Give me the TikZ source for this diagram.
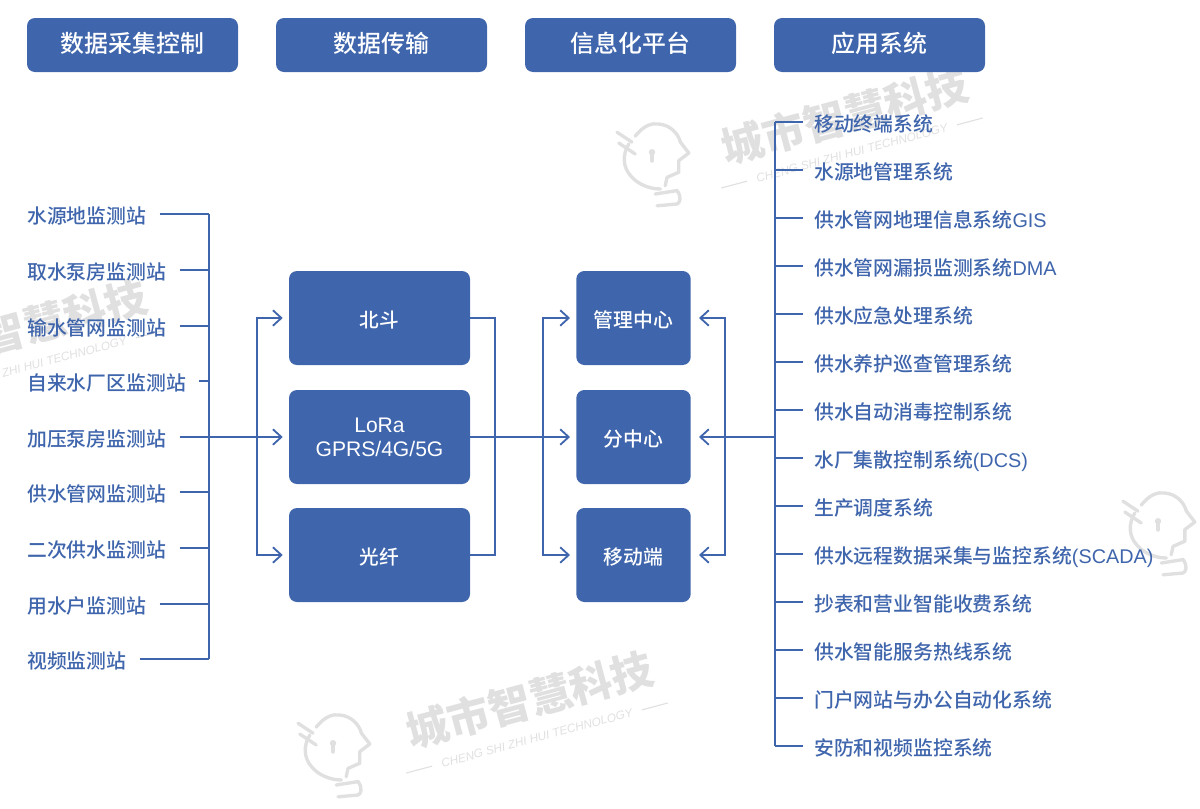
\documentclass[tikz,border=0pt]{standalone}
\usepackage{xcolor}
\usepackage{fontspec}
\setmainfont{Noto Sans CJK SC Medium}
\newfontfamily\latfont{Liberation Sans}
\usetikzlibrary{arrows.meta,positioning}
\definecolor{sysblue}{HTML}{3F65AC}
\definecolor{wmgray}{HTML}{E0E0E0}

\tikzset{
  headicon/.pic={
    \draw[wmgray, line width=2.4pt, line cap=round, line join=round]
      (-0.42,0.57) .. controls (-0.2,0.85) and (0.0,0.9) .. (0.17,0.875)
      .. controls (0.45,0.85) and (0.65,0.65) .. (0.71,0.42) -- (0.92,0.15) -- (0.67,-0.04) -- (0.67,-0.33) -- (0.375,-0.46) -- (0.33,-0.67);
    \draw[wmgray, line width=2.4pt, line cap=round]
      (-0.58,0.375) .. controls (-0.75,0.1) and (-0.72,-0.2) .. (-0.55,-0.4)
      .. controls (-0.4,-0.6) and (-0.1,-0.75) .. (0.21,-0.75);
    \draw[wmgray, line width=2.4pt, line cap=round] (-0.875,0.67) -- (-0.5,0.42);
    \draw[wmgray, line width=2.4pt, line cap=round] (-0.83,0.4) -- (-0.42,0.125);
    \draw[wmgray, line width=2.4pt, line cap=round] (0,0.17) -- (0,-0.05);
    \fill[wmgray] (0,0.17) circle (0.08);
    \draw[wmgray, line width=2.4pt, line cap=round] (0.08,-0.875) -- (0.625,-0.79)
      .. controls (0.75,-0.95) and (0.7,-1.1) .. (0.625,-1.125) -- (0.125,-1.17);
  }
}

\begin{document}
\begin{tikzpicture}[
  line/.style={draw=sysblue, line width=1.3pt},
  arr/.style={line, -{Straight Barb[length=6pt,width=11pt,line width=1.3pt]}},
  head/.style={fill=sysblue, text=white, rounded corners=0.2cm, minimum width=5.275cm, minimum height=1.35cm, text height=14pt, text depth=3.9pt, font=\fontsize{17}{20}\selectfont},
  bigbox/.style={fill=sysblue, text=white, rounded corners=0.2cm, minimum width=4.525cm, minimum height=2.35cm, align=center, font=\fontsize{14}{17}\selectfont},
  midbox/.style={fill=sysblue, text=white, rounded corners=0.2cm, minimum width=2.86cm, minimum height=2.35cm, text height=14.8pt, text depth=1.4pt, font=\fontsize{14.1}{17}\selectfont},
  item/.style={anchor=west, inner sep=0pt, text=sysblue, text height=14.8pt, text depth=1.4pt, font=\fontsize{14.1}{17}\selectfont},
  wmark/.style={text=wmgray, rotate=15, font=\fontsize{30}{36}\selectfont\bfseries},
  wmsub/.style={text=wmgray, rotate=15, font=\fontsize{8.4}{10}\selectfont\latfont\itshape},
  wmline/.style={draw=wmgray, line width=0.8pt}
]
\useasboundingbox (0,0) rectangle (30,-20.2);

% watermarks
\node[wmark] (wm1) at (21.125,-2.9) {城市智慧科技};
\node[wmsub] (wms1) at (21.3,-3.825) {CHENG SHI ZHI HUI TECHNOLOGY};
\node[wmark] (wm2) at (0.6,-8.2) {城市智慧科技};
\node[wmsub] (wms2) at (0.775,-9.15) {CHENG SHI ZHI HUI TECHNOLOGY};
\node[wmark] (wm3) at (13.25,-17.5) {城市智慧科技};
\node[wmsub] (wms3) at (13.425,-18.45) {CHENG SHI ZHI HUI TECHNOLOGY};
\draw[wmline] (wms1.west) ++(195:0.12) -- ++(195:0.67);
\draw[wmline] (wms1.east) ++(15:0.12) -- ++(15:0.67);
\draw[wmline] (wms2.east) ++(15:0.12) -- ++(15:0.67);
\draw[wmline] (wms3.west) ++(195:0.12) -- ++(195:0.67);
\draw[wmline] (wms3.east) ++(15:0.12) -- ++(15:0.67);
\pic at (16.3,-3.975) {headicon};
\pic at (8.325,-18.75) {headicon};
\pic at (28.95,-13.2) {headicon};

% headers
\node[head] (h1) at (3.3125,-1.125) {数据采集控制};
\node[head] (h2) at (9.5375,-1.125) {数据传输};
\node[head] (h3) at (15.7625,-1.125) {信息化平台};
\node[head] (h4) at (21.9875,-1.125) {应用系统};

% stations
\node[item] (s1) at (0.675,-5.36) {水源地监测站};
\node[item] (s2) at (0.675,-6.75) {取水泵房监测站};
\node[item] (s3) at (0.675,-8.14) {输水管网监测站};
\node[item] (s4) at (0.675,-9.53) {自来水厂区监测站};
\node[item] (s5) at (0.675,-10.925) {加压泵房监测站};
\node[item] (s6) at (0.675,-12.31) {供水管网监测站};
\node[item] (s7) at (0.675,-13.7) {二次供水监测站};
\node[item] (s8) at (0.675,-15.09) {用水户监测站};
\node[item] (s9) at (0.675,-16.48) {视频监测站};

% links
\node[bigbox, text height=14.8pt, text depth=1.4pt] (bd) at (9.4875,-7.95) {北斗};
\node[bigbox] (lora) at (9.4875,-10.925) {{\latfont\fontsize{15}{17}\selectfont LoRa}\\{\latfont\fontsize{15}{17}\selectfont GPRS/4G/5G}};
\node[bigbox, text height=14.8pt, text depth=1.4pt] (gx) at (9.4875,-13.875) {光纤};

% centres
\node[midbox] (glzx) at (15.8375,-7.95) {管理中心};
\node[midbox] (fzx) at (15.8375,-10.925) {分中心};
\node[midbox] (ydd) at (15.8375,-13.875) {移动端};

% systems
\node[item] (r1) at (20.35,-3.05) {移动终端系统};
\node[item] (r2) at (20.35,-4.25) {水源地管理系统};
\node[item] (r3) at (20.35,-5.45) {供水管网地理信息系统{\latfont GIS}};
\node[item] (r4) at (20.35,-6.65) {供水管网漏损监测系统{\latfont DMA}};
\node[item] (r5) at (20.35,-7.85) {供水应急处理系统};
\node[item] (r6) at (20.35,-9.05) {供水养护巡查管理系统};
\node[item] (r7) at (20.35,-10.25) {供水自动消毒控制系统};
\node[item] (r8) at (20.35,-11.45) {水厂集散控制系统{\latfont (DCS)}};
\node[item] (r9) at (20.35,-12.65) {生产调度系统};
\node[item] (r10) at (20.35,-13.85) {供水远程数据采集与监控系统{\latfont (SCADA)}};
\node[item] (r11) at (20.35,-15.05) {抄表和营业智能收费系统};
\node[item] (r12) at (20.35,-16.25) {供水智能服务热线系统};
\node[item] (r13) at (20.35,-17.45) {门户网站与办公自动化系统};
\node[item] (r14) at (20.35,-18.65) {安防和视频监控系统};

% bus points
\coordinate (cl) at (5.225,-10.925);
\coordinate (ia) at (6.425,-10.925);
\coordinate (oa) at (12.375,-10.925);
\coordinate (ib) at (13.575,-10.925);
\coordinate (ic) at (18.125,-10.925);
\coordinate (rb) at (19.375,-10.925);

% stations to links
\draw[line, shorten <=0.33cm] (s1.east) -- (s1.east -| cl);
\draw[line, shorten <=0.33cm] (s2.east) -- (s2.east -| cl);
\draw[line, shorten <=0.33cm] (s3.east) -- (s3.east -| cl);
\draw[line, shorten <=0.33cm] (s4.east) -- (s4.east -| cl);
\draw[line, shorten <=0.33cm] (s6.east) -- (s6.east -| cl);
\draw[line, shorten <=0.33cm] (s7.east) -- (s7.east -| cl);
\draw[line, shorten <=0.33cm] (s8.east) -- (s8.east -| cl);
\draw[line, shorten <=0.33cm] (s9.east) -- (s9.east -| cl);
\draw[line] (s1.east -| cl) -- (s9.east -| cl);
\draw[arr, shorten <=0.33cm, shorten >=0.15cm] (s5.east) -- (lora.west);
\draw[arr, shorten >=0.15cm] (ia) |- (bd.west);
\draw[arr, shorten >=0.15cm] (ia) |- (gx.west);

% links to centres
\draw[line] (bd.east) -| (oa);
\draw[line] (gx.east) -| (oa);
\draw[arr, shorten >=0.15cm] (lora.east) -- (fzx.west);
\draw[arr, shorten >=0.15cm] (ib) |- (glzx.west);
\draw[arr, shorten >=0.15cm] (ib) |- (ydd.west);

% systems to centres
\draw[arr, shorten >=0.2cm] (rb) -- (fzx.east);
\draw[arr, shorten >=0.2cm] (ic) |- (glzx.east);
\draw[arr, shorten >=0.2cm] (ic) |- (ydd.east);
\draw[line] (r1.west -| rb) -- (r14.west -| rb);
\draw[line, shorten <=0.275cm] (r1.west) -- (r1.west -| rb);
\draw[line, shorten <=0.275cm] (r2.west) -- (r2.west -| rb);
\draw[line, shorten <=0.275cm] (r3.west) -- (r3.west -| rb);
\draw[line, shorten <=0.275cm] (r4.west) -- (r4.west -| rb);
\draw[line, shorten <=0.275cm] (r5.west) -- (r5.west -| rb);
\draw[line, shorten <=0.275cm] (r6.west) -- (r6.west -| rb);
\draw[line, shorten <=0.275cm] (r7.west) -- (r7.west -| rb);
\draw[line, shorten <=0.275cm] (r8.west) -- (r8.west -| rb);
\draw[line, shorten <=0.275cm] (r9.west) -- (r9.west -| rb);
\draw[line, shorten <=0.275cm] (r10.west) -- (r10.west -| rb);
\draw[line, shorten <=0.275cm] (r11.west) -- (r11.west -| rb);
\draw[line, shorten <=0.275cm] (r12.west) -- (r12.west -| rb);
\draw[line, shorten <=0.275cm] (r13.west) -- (r13.west -| rb);
\draw[line, shorten <=0.275cm] (r14.west) -- (r14.west -| rb);
\end{tikzpicture}
\end{document}
